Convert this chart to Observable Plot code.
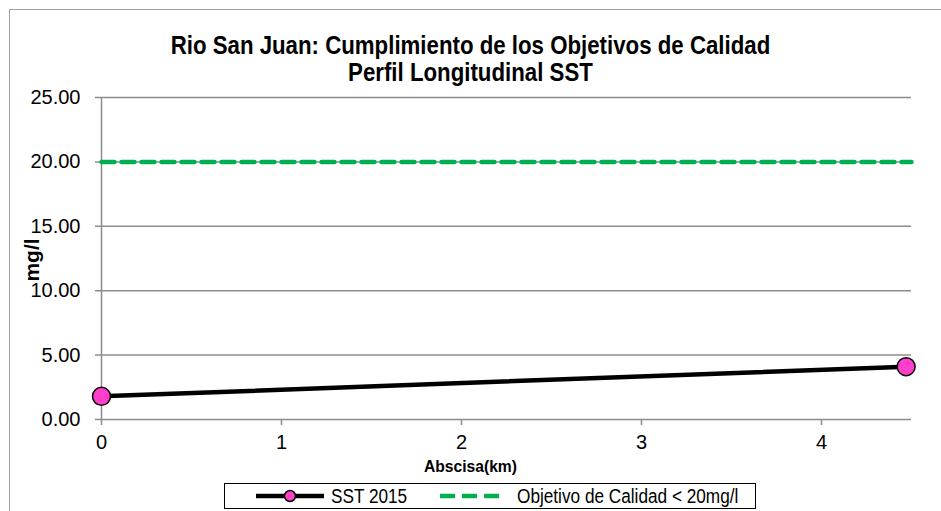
<!DOCTYPE html>
<html>
<head>
<meta charset="utf-8">
<script src="https://cdn.jsdelivr.net/npm/d3@7"></script>
<script src="https://cdn.jsdelivr.net/npm/@observablehq/plot@0.6"></script>
<style>
  html, body { margin: 0; padding: 0; background: #fff; overflow: hidden; width: 941px; height: 511px; }
  #wrap { position: relative; width: 941px; height: 511px; font-family: "Liberation Sans", Arial, sans-serif; }
  #frame { position: absolute; left: 9px; top: 9px; width: 1000px; height: 1000px; border: 1px solid #a0a0a0; box-sizing: border-box; }
  #title { position: absolute; left: 0; width: 941px; top: 32px; text-align: center; font-weight: bold; font-size: 25px; line-height: 27px; color: #000; transform: scaleX(0.89); transform-origin: 470px 0; }
  #ylab { position: absolute; left: 31px; top: 260px; transform: translate(-50%, -50%) rotate(-90deg); font-weight: bold; font-size: 21px; white-space: nowrap; line-height: 21px; }
  #xlab { position: absolute; left: 0; width: 941px; text-align: center; top: 457px; font-weight: bold; font-size: 17px; transform: scaleX(0.92); transform-origin: 470px 0; }
  #legend { position: absolute; left: 224px; top: 483px; width: 532px; height: 26px; border: 1px solid #000; box-sizing: border-box; background: #fff; font-size: 20px; }
  #legend .item { position: absolute; top: 0; height: 24px; display: flex; align-items: center; white-space: nowrap; }
  #legend .lbl { display: inline-block; transform: scaleX(0.86); transform-origin: 0 50%; }
  #chart { position: absolute; left: 0; top: 0; }
</style>
</head>
<body>
<div id="wrap">
  <div id="frame"></div>
  <div id="chart"></div>
  <div id="title">Rio San Juan: Cumplimiento de los Objetivos de Calidad<br>Perfil Longitudinal SST</div>
  <div id="ylab">mg/l</div>
  <div id="xlab">Abscisa(km)</div>
  <div id="legend"></div>
</div>
<script>
// Data
const abscisaKm = [0, 4.47];
const sst2015 = [1.8, 4.1];
const objetivoX = [0, 4.5];
const objetivoVal = [20, 20];
const yTicks = [0, 5, 10, 15, 20, 25];
const xTicks = [0, 1, 2, 3, 4];
const seriesNames = ["SST 2015", "Objetivo de Calidad < 20mg/l"];

const sstData = abscisaKm.map((x, i) => ({x, y: sst2015[i]}));
const objData = objetivoX.map((x, i) => ({x, y: objetivoVal[i]}));

const pink = "#ff3fcc";
const green = "#00b050";
const gridColor = "#8c8c8c";

const chart = Plot.plot({
  width: 941,
  height: 511,
  marginLeft: 101,
  marginRight: 30,
  marginTop: 97,
  marginBottom: 92,
  style: {fontFamily: '"Liberation Sans", Arial, sans-serif', fontSize: "20px", color: "#000", background: "transparent"},
  x: {domain: [0, 4.5], axis: null},
  y: {domain: [0, 25], axis: null},
  marks: [
    Plot.ruleY(yTicks, {y: d => d, x1: 0, x2: 4.5, stroke: gridColor, strokeWidth: 1.5, insetLeft: -6}),
    Plot.ruleX([0], {x: d => d, y1: 0, y2: 25, stroke: gridColor, strokeWidth: 1.5}),
    Plot.axisY({ticks: yTicks, tickSize: 0, tickPadding: 21, tickFormat: d3.format(".2f"), fontSize: 20, fill: "#000", anchor: "left", label: null}),
    Plot.axisX({ticks: xTicks, tickSize: 6, tickPadding: 9, stroke: gridColor, strokeWidth: 1.5, fontSize: 20, fill: "#000", anchor: "bottom", tickFormat: d3.format("d"), label: null}),
    Plot.line(objData, {x: "x", y: "y", stroke: green, strokeWidth: 4.5, strokeDasharray: "13,7"}),
    Plot.line(sstData, {x: "x", y: "y", stroke: "#000", strokeWidth: 4.5}),
    Plot.dot(sstData, {x: "x", y: "y", r: 9, fill: pink, stroke: "#000", strokeWidth: 1.5})
  ]
});
document.getElementById("chart").appendChild(chart);

// Legend
const legend = document.getElementById("legend");
const ns = "http://www.w3.org/2000/svg";
function item(left, w, swatch, label, gap) {
  const d = document.createElement("div");
  d.className = "item";
  d.style.left = left + "px";
  const s = document.createElementNS(ns, "svg");
  s.setAttribute("width", w); s.setAttribute("height", 24);
  s.innerHTML = swatch;
  d.appendChild(s);
  const t = document.createElement("span");
  t.className = "lbl";
  t.textContent = label;
  t.style.marginLeft = gap + "px";
  d.appendChild(t);
  legend.appendChild(d);
}
item(30, 70, `<line x1="1" y1="12" x2="69" y2="12" stroke="#000" stroke-width="4.5"/><circle cx="35" cy="12" r="5.5" fill="${pink}" stroke="#000" stroke-width="1.5"/>`, seriesNames[0], 6);
item(214, 64, `<line x1="1" y1="12" x2="63" y2="12" stroke="${green}" stroke-width="4.5" stroke-dasharray="15,7"/>`, seriesNames[1], 14);
</script>
</body>
</html>
